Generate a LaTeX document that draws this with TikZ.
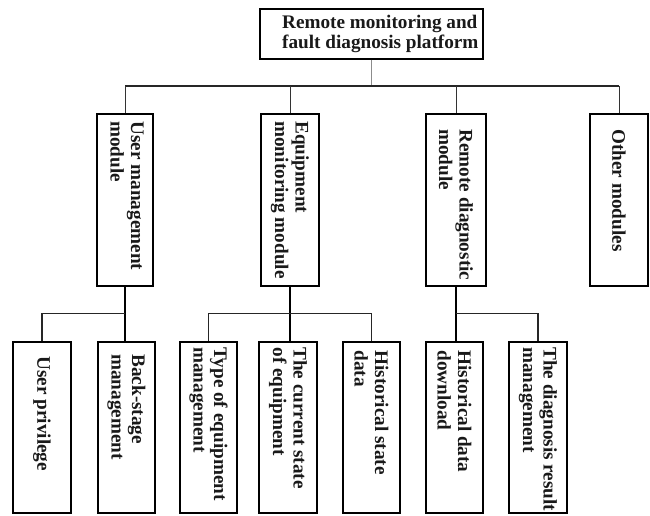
\documentclass[tikz,border=0pt]{standalone}
\usepackage{fontspec}
\setmainfont{Liberation Serif}
\usetikzlibrary{calc}
\begin{document}
\begin{tikzpicture}[x=1pt,y=-1pt,
  box/.style={draw=black,line width=1.6pt,inner sep=0pt,fill=white},
  lvone/.style={box,minimum height=172pt},
  lvtwo/.style={box,minimum height=171pt},
  lbl/.style={inner sep=0pt,align=left,text=black!90,font=\bfseries\fontsize{19.2}{20.5}\selectfont},
  vlbl/.style={lbl,anchor=west,rotate=-90},
  thinline/.style={line width=1pt,black!80},
  busline/.style={line width=1.8pt,black!85},
  stemline/.style={line width=2.6pt,black},
  brline/.style={line width=1.5pt,black!85}]
\useasboundingbox (0,0) rectangle (650,516);
% top
\node[box,minimum width=223pt,minimum height=50pt] (top) at (371.5,34) {};
\node[lbl,anchor=west] (topt) at (282,34) {Remote monitoring and\\fault diagnosis platform};
% level one
\node[lvone,minimum width=56pt] (um) at (125,200) {};
\node[lvone,minimum width=58pt] (eq) at (290,200) {};
\node[lvone,minimum width=60pt] (rm) at (456,200) {};
\node[lvone,minimum width=58pt] (om) at (619,200) {};
% level two
\node[lvtwo,minimum width=58pt] (up) at (42,427.5) {};
\node[lvtwo,minimum width=57pt] (bs) at (126.5,427.5) {};
\node[lvtwo,minimum width=57pt] (ty) at (208.5,427.5) {};
\node[lvtwo,minimum width=58pt] (cu) at (288,427.5) {};
\node[lvtwo,minimum width=57pt] (hs) at (371.5,427.5) {};
\node[lvtwo,minimum width=57pt] (hd) at (454.5,427.5) {};
\node[lvtwo,minimum width=58pt] (dg) at (538,427.5) {};
% labels
\node[vlbl] (umt) at ($(um.north)+(2,8)$) {User management\\module};
\node[vlbl] (eqt) at ($(eq.north)+(0,8)$) {Equipment\\monitoring module};
\node[vlbl] (rmt) at ($(rm.north)+(0,16)$) {Remote diagnostic\\module};
\node[vlbl] (omt) at ($(om.north)+(0,16)$) {Other modules};
\node[vlbl] (upt) at ($(up.north)+(0,15)$) {User privilege};
\node[vlbl] (bst) at ($(bs.north)+(0,13)$) {Back-stage\\management};
\node[vlbl] (tyt) at ($(ty.north)+(0,6)$) {Type of equipment\\management};
\node[vlbl] (cut) at ($(cu.north)+(0,6)$) {The current state\\of equipment};
\node[vlbl] (hst) at ($(hs.north)+(0,9)$) {Historical state\\data};
\node[vlbl] (hdt) at ($(hd.north)+(0,9)$) {Historical data\\download};
\node[vlbl] (dgt) at ($(dg.north)+(0,6)$) {The diagnosis result\\management};
% connectors top -> level one
\coordinate (hb) at ($(top.south)+(0,26)$);
\draw[line width=0.8pt,black!45] (top.south) -- (hb);
\draw[busline] (um.north |- hb) -- (om.north |- hb);
\foreach \n in {um,eq,rm,om} \draw[thinline] (\n.north |- hb) -- (\n.north);
% level one -> level two
\coordinate (br) at (0,313.5);
\draw[stemline] (um.south) -- (um.south |- bs.north);
\draw[brline] (up.north) |- (um.south |- br);
\draw[stemline] (eq.south) -- (eq.south |- cu.north);
\draw[brline] (ty.north) |- (hs.north |- br) -- (hs.north);
\draw[stemline] (rm.south) -- (rm.south |- hd.north);
\draw[brline] (rm.south |- br) -| (dg.north);
\end{tikzpicture}
\end{document}
